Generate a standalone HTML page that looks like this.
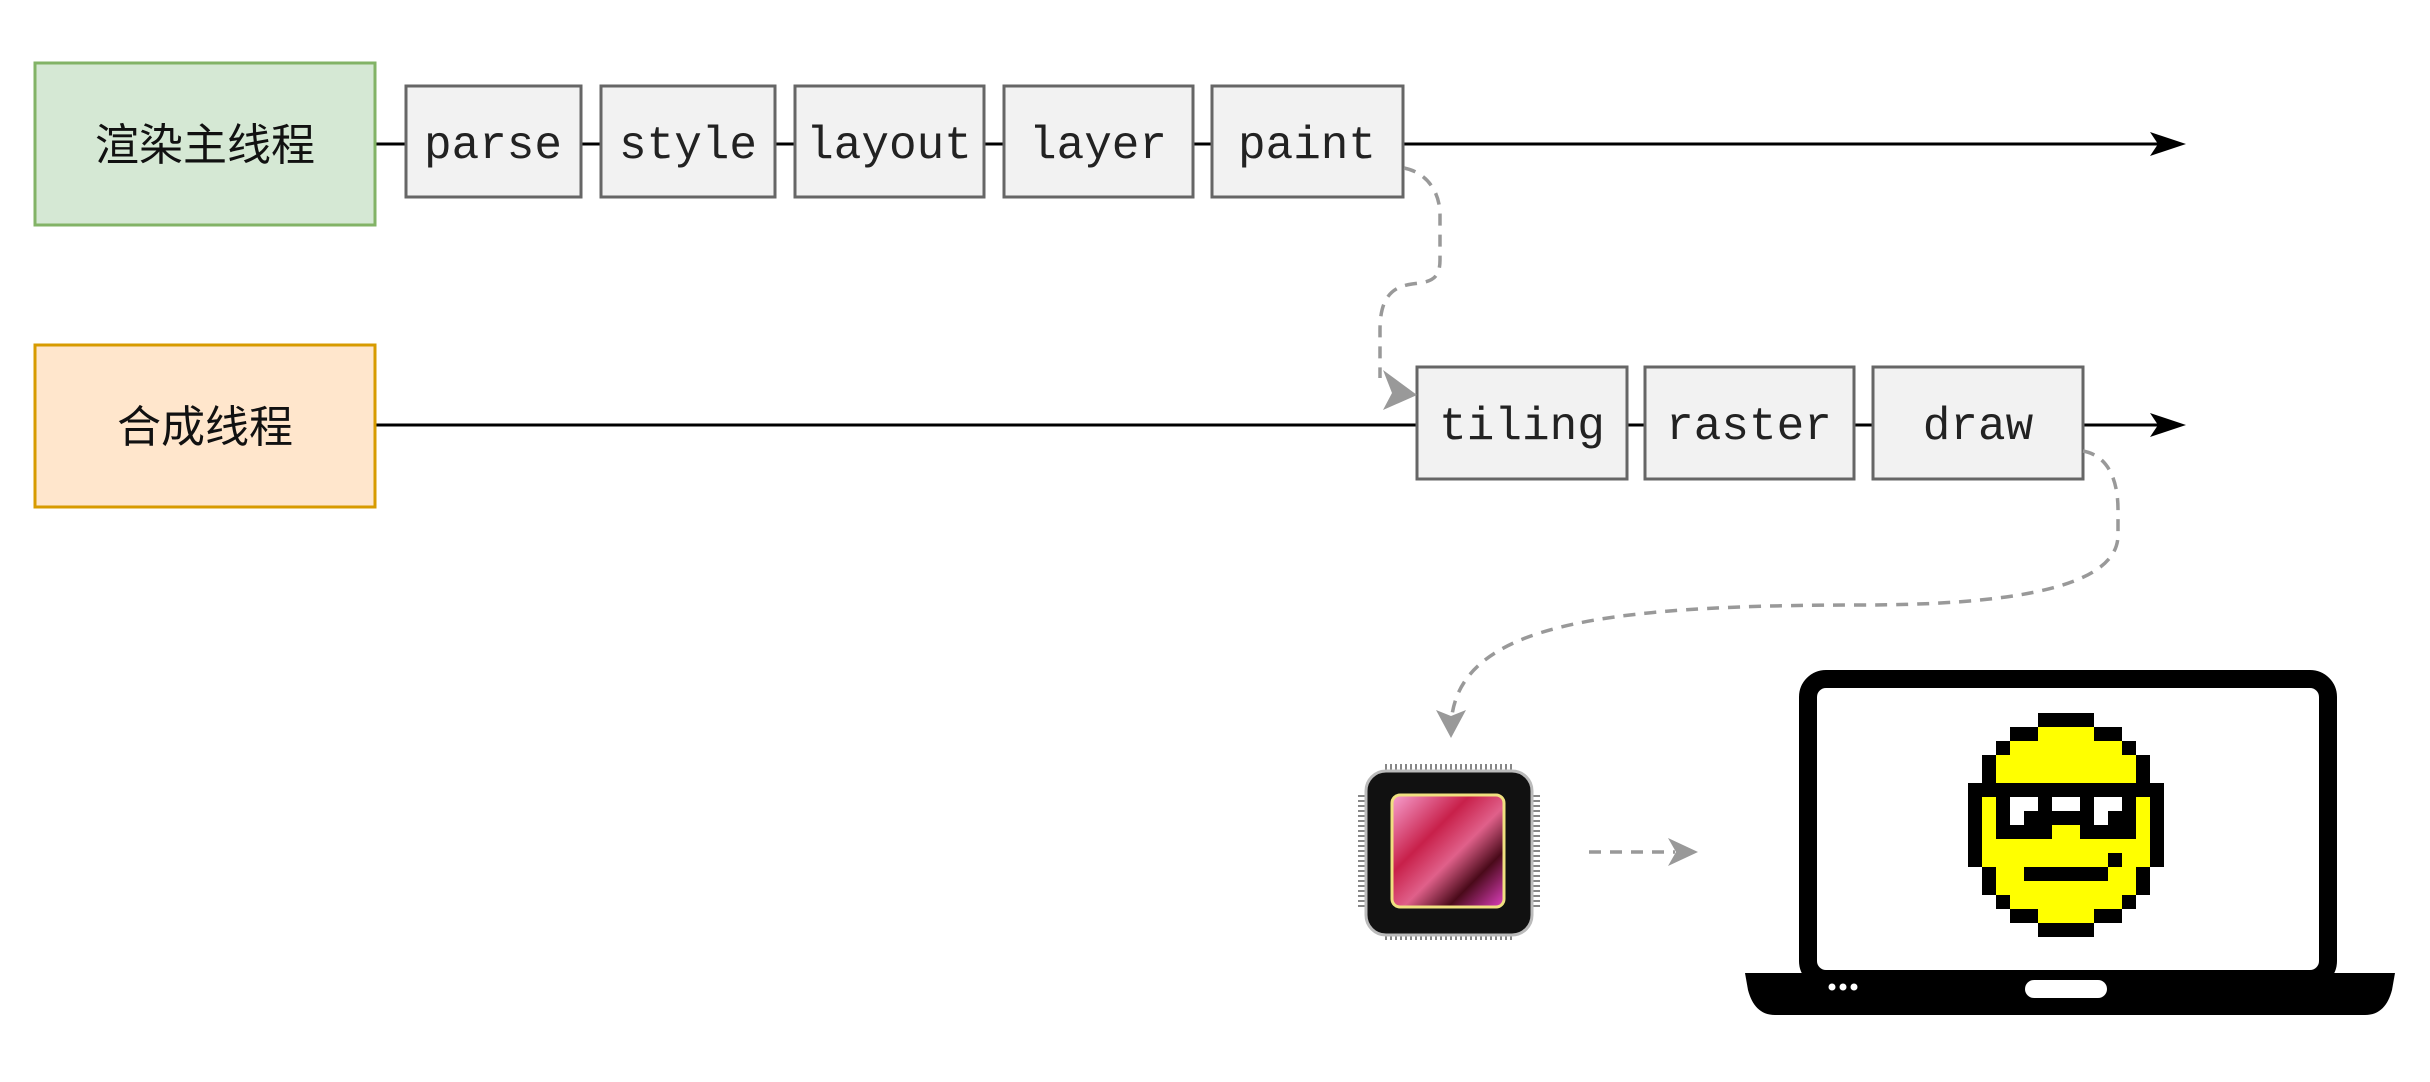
<!DOCTYPE html>
<html><head><meta charset="utf-8"><style>
html,body{margin:0;padding:0;background:#fff;}
svg{display:block;}
.m{font-family:"Liberation Mono",monospace;font-size:46px;fill:#222;}
.c{font-family:"Liberation Sans","Noto Sans CJK SC",sans-serif;font-size:44px;fill:#111;}
</style></head><body>
<svg width="2430" height="1082" viewBox="0 0 2430 1082" xmlns="http://www.w3.org/2000/svg">
<defs>
<linearGradient id="chipg" x1="0" y1="0" x2="1" y2="1">
<stop offset="0" stop-color="#f7a0d0"/><stop offset="0.35" stop-color="#c8204a"/><stop offset="0.55" stop-color="#e0608a"/><stop offset="0.75" stop-color="#4a0a1a"/><stop offset="1" stop-color="#e040c0"/></linearGradient>
<pattern id="pinh" width="5" height="10" patternUnits="userSpaceOnUse"><rect width="2" height="10" fill="#888"/></pattern>
<pattern id="pinv" width="10" height="5" patternUnits="userSpaceOnUse"><rect width="10" height="2" fill="#888"/></pattern>
</defs>
<!-- lines -->
<line x1="375" y1="144" x2="2160" y2="144" stroke="#000" stroke-width="3"/>
<line x1="375" y1="425" x2="2160" y2="425" stroke="#000" stroke-width="3"/>
<path d="M2150,132 L2186,144 L2150,156 L2158,144 Z" fill="#000"/>
<path d="M2150,413 L2186,425 L2150,437 L2158,425 Z" fill="#000"/>
<!-- thread boxes -->
<rect x="35" y="63" width="340" height="162" fill="#d5e8d4" stroke="#82b366" stroke-width="3"/>
<text x="205" y="160" class="c" text-anchor="middle">渲染主线程</text>
<rect x="35" y="345" width="340" height="162" fill="#ffe6cc" stroke="#d79b00" stroke-width="3"/>
<text x="205" y="442" class="c" text-anchor="middle">合成线程</text>
<!-- step boxes -->
<g fill="#f2f2f2" stroke="#666" stroke-width="3">
<rect x="406" y="86" width="175" height="111"/>
<rect x="601" y="86" width="174" height="111"/>
<rect x="795" y="86" width="189" height="111"/>
<rect x="1004" y="86" width="189" height="111"/>
<rect x="1212" y="86" width="191" height="111"/>
<rect x="1417" y="367" width="210" height="112"/>
<rect x="1645" y="367" width="209" height="112"/>
<rect x="1873" y="367" width="210" height="112"/>
</g>
<g class="m" text-anchor="middle">
<text x="493" y="158">parse</text>
<text x="688" y="158">style</text>
<text x="889" y="158">layout</text>
<text x="1098" y="158">layer</text>
<text x="1307" y="158">paint</text>
<text x="1522" y="439">tiling</text>
<text x="1749" y="439">raster</text>
<text x="1978" y="439">draw</text>
</g>
<!-- dashed connectors -->
<g fill="none" stroke="#999" stroke-width="3.5" stroke-dasharray="12,9">
<path d="M1404,168 C1425,172 1440,190 1440,215 L1440,260 C1440,280 1430,282 1412,284 C1390,287 1380,300 1380,330 L1380,378"/>
<path d="M2083,451 C2105,455 2118,475 2118,510 L2118,535 C2118,590 2000,605 1860,605 C1680,605 1560,615 1500,650 C1465,670 1455,695 1452,715"/>
<path d="M1589,852 L1675,852"/>
</g>
<path d="M1383,370 L1417,395 L1383,410 L1392,393 Z" fill="#999"/>
<path d="M1436,710 L1451,738 L1466,710 L1451,716 Z" fill="#999"/>
<path d="M1668,838 L1698,852 L1668,866 L1676,852 Z" fill="#999"/>
<!-- chip -->
<rect x="1385" y="764" width="130" height="8" fill="url(#pinh)"/>
<rect x="1385" y="932" width="130" height="8" fill="url(#pinh)"/>
<rect x="1358" y="795" width="8" height="115" fill="url(#pinv)"/>
<rect x="1532" y="795" width="8" height="115" fill="url(#pinv)"/>
<rect x="1366" y="771" width="166" height="164" rx="20" fill="#111" stroke="#bbb" stroke-width="3"/>
<rect x="1392" y="795" width="112" height="112" rx="8" fill="url(#chipg)" stroke="#f0e080" stroke-width="3"/>
<!-- laptop -->
<rect x="1808" y="679" width="520" height="300" rx="18" fill="#fff" stroke="#000" stroke-width="18"/>
<path d="M1745,973 L2395,973 L2392,990 C2388,1005 2380,1015 2365,1015 L1775,1015 C1760,1015 1752,1005 1748,990 Z" fill="#000"/>
<rect x="2025" y="980" width="82" height="18" rx="9" fill="#fff"/>
<circle cx="1832" cy="987" r="3.5" fill="#fff"/><circle cx="1843" cy="987" r="3.5" fill="#fff"/><circle cx="1854" cy="987" r="3.5" fill="#fff"/>
<!-- smiley -->
<g transform="translate(1968,713) scale(14)" shape-rendering="crispEdges">
<g fill="#000">
<rect x="5" y="0" width="4" height="1"/>
<rect x="3" y="1" width="2" height="1"/><rect x="9" y="1" width="2" height="1"/>
<rect x="2" y="2" width="1" height="1"/><rect x="11" y="2" width="1" height="1"/>
<rect x="1" y="3" width="1" height="2"/><rect x="12" y="3" width="1" height="2"/>
<rect x="0" y="5" width="14" height="1"/>
<rect x="0" y="6" width="1" height="5"/><rect x="13" y="6" width="1" height="5"/>
<rect x="2" y="6" width="4" height="3"/><rect x="8" y="6" width="4" height="3"/>
<rect x="6" y="7" width="2" height="1"/>
<rect x="10" y="10" width="1" height="1"/>
<rect x="4" y="11" width="6" height="1"/>
<rect x="1" y="11" width="1" height="2"/><rect x="12" y="11" width="1" height="2"/>
<rect x="2" y="13" width="1" height="1"/><rect x="11" y="13" width="1" height="1"/>
<rect x="3" y="14" width="2" height="1"/><rect x="9" y="14" width="2" height="1"/>
<rect x="5" y="15" width="4" height="1"/>
</g>
<g fill="#fff"><rect x="3" y="6" width="1" height="2"/><rect x="4" y="6" width="1" height="1"/><rect x="9" y="6" width="1" height="2"/><rect x="10" y="6" width="1" height="1"/></g>
<g fill="#ff0">
<rect x="2" y="9" width="10" height="1"/><rect x="1" y="6" width="1" height="5"/><rect x="12" y="6" width="1" height="5"/>
<rect x="6" y="8" width="2" height="1"/><rect x="2" y="10" width="8" height="1"/><rect x="11" y="10" width="1" height="1"/>
<rect x="2" y="11" width="2" height="1"/><rect x="10" y="11" width="2" height="1"/>
<rect x="2" y="12" width="10" height="1"/><rect x="3" y="13" width="8" height="1"/><rect x="5" y="14" width="4" height="1"/>
<rect x="2" y="3" width="10" height="2"/><rect x="3" y="2" width="8" height="1"/><rect x="5" y="1" width="4" height="1"/>
</g>
</g>
</svg>
</body></html>
